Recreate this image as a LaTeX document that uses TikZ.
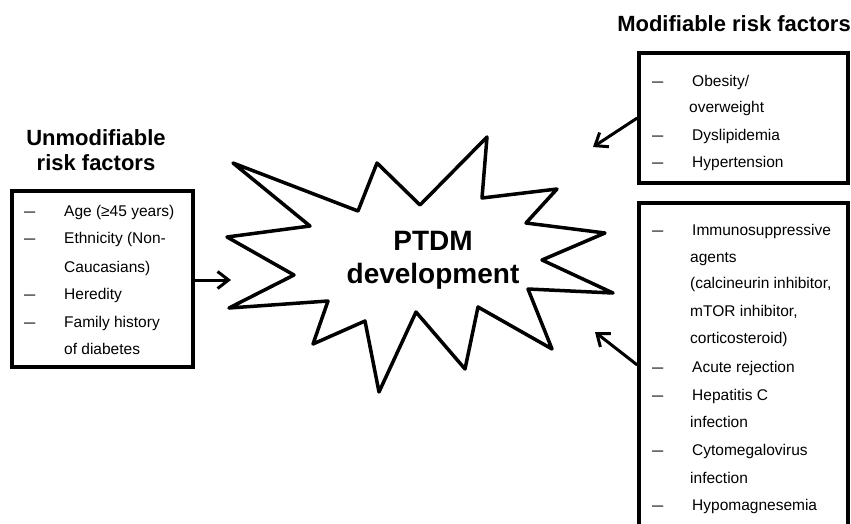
\documentclass[tikz,border=0pt]{standalone}
\usepackage{fontspec}
\usepackage{graphicx}
\setmainfont{Liberation Sans}
\usetikzlibrary{arrows.meta}
\newcommand{\wdash}{\scalebox{1.3}[1]{–}}
\begin{document}
\begin{tikzpicture}[x=1pt,y=-1pt,
  box/.style={draw, line width=3.5pt, inner sep=0pt, minimum width=209pt},
  item/.style={anchor=base west, inner sep=0pt, font=\fontsize{15.5}{18}\selectfont},
  ttl/.style={anchor=base, inner sep=0pt, font=\fontsize{22}{26}\selectfont\bfseries},
  big/.style={anchor=base, inner sep=0pt, font=\fontsize{28}{33}\selectfont\bfseries},
  arr/.style={line width=3pt, -{Straight Barb[length=11pt,width=17pt,line width=3pt]}},
  star/.style={draw, line width=3.5pt, line join=round}]
\useasboundingbox (0,0) rectangle (851,523);
\clip (0,0) rectangle (851,523);

% star
\draw[star] (233,163) -- (358,211) -- (377,163) -- (420,205) -- (487,137) -- (482,198)
  -- (557,189) -- (526,223) -- (605,233) -- (542,260) -- (613,293) -- (528,289)
  -- (552,349) -- (478,307) -- (465,369) -- (416,312) -- (379,392) -- (365,321)
  -- (313,344) -- (328,301) -- (229,308) -- (294,275) -- (227,237) -- (310,226) -- cycle;
\node[big] (p1) at (433,250) {PTDM};
\node[big] (p2) at (433,283) {development};

% left
\node[ttl] (t1) at (96,145) {Unmodifiable};
\node[ttl] (t2) at (96,170) {risk factors};
\node[box, minimum width=181pt, minimum height=176pt] (L) at (102.5,279) {};
\foreach \y/\t/\d [count=\i] in {216/{Age (≥45 years)}/1, 243.5/{Ethnicity (Non-}/1,
    272/{Caucasians)}/0, 299.5/{Heredity}/1, 327/{Family history}/1, 354.5/{of  diabetes}/0} {
  \node[item] (lt\i) at (64,\y) {\t};
  \ifnum\d=1 \node[item] (ld\i) at (24,\y) {\wdash}; \fi
}
\coordinate (la) at (231,280);
\draw[arr] (L.east |- la) -- (la);

% top right
\node[ttl] (t3) at (734,31) {Modifiable risk factors};
\node[box, minimum height=130pt] (TR) at (743.5,118) {};
\foreach \y/\t/\d/\xx [count=\i] in {86/{Obesity/}/1/692, 112/{overweight}/0/689,
    140/{Dyslipidemia}/1/692, 167/{Hypertension}/1/692} {
  \node[item] (rt\i) at (\xx,\y) {\t};
  \ifnum\d=1 \node[item] (rd\i) at (652,\y) {\wdash}; \fi
}
\coordinate (ta) at (593,147);
\draw[arr] (TR.west) -- (ta);

% bottom right
\node[box, minimum height=324pt] (BR) at (743.5,365) {};
\foreach \y/\t/\d/\xx [count=\i] in {235/{Immunosuppressive}/1/692, 262/{agents}/0/690,
    288.5/{(calcineurin inhibitor,}/0/690, 316/{mTOR inhibitor,}/0/690,
    343.5/{corticosteroid)}/0/690, 372.5/{Acute rejection}/1/692,
    400/{Hepatitis C}/1/692, 427.5/{infection}/0/690, 455/{Cytomegalovirus}/1/692,
    483/{infection}/0/690, 510/{Hypomagnesemia}/1/692} {
  \node[item] (bt\i) at (\xx,\y) {\t};
  \ifnum\d=1 \node[item] (bd\i) at (652,\y) {\wdash}; \fi
}
\coordinate (ba) at (595,332);
\draw[arr] (BR.west) -- (ba);
\end{tikzpicture}
\end{document}
